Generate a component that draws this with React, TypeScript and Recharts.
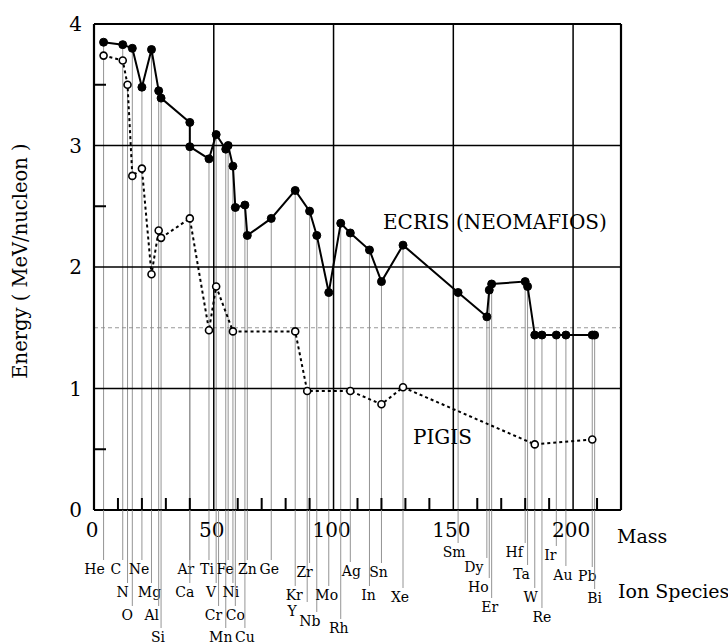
import { ComposedChart, Line, Scatter, XAxis, YAxis, ReferenceLine } from "recharts"

// ion species and the mass each one is plotted at
const species = ["He", "C", "N", "O", "Ne", "Mg", "Al", "Si", "Ar", "Ca", "Ti", "V", "Cr", "Mn", "Fe", "Ni", "Co", "Cu", "Zn", "Ge", "Kr", "Y", "Zr", "Nb", "Mo", "Rh", "Ag", "In", "Sn", "Xe", "Sm", "Dy", "Ho", "Er", "Hf", "Ta", "W", "Re", "Ir", "Au", "Pb", "Bi"]
const masses = [4, 12, 14, 16, 20, 24, 27, 28, 40, 40, 48, 51, 52, 55, 56, 58, 59, 63, 64, 74, 84, 89, 90, 93, 98, 103, 107, 115, 120, 129, 152, 164, 165, 166, 180, 181, 184, 187, 193, 197, 208, 209]

// MeV/nucleon, null = no point for that ion
const ecris = [3.85, 3.83, null, 3.8, 3.48, 3.79, 3.45, 3.39, 3.19, 2.99, 2.89, 3.09, null, 2.97, 3.0, 2.83, 2.49, 2.51, 2.26, 2.4, 2.63, null, 2.46, 2.26, 1.79, 2.36, 2.28, 2.14, 1.88, 2.18, 1.79, 1.59, 1.81, 1.86, 1.88, 1.84, 1.44, 1.44, 1.44, 1.44, 1.44, 1.44]
const pigis = [3.74, 3.7, 3.5, 2.75, 2.81, 1.94, 2.3, 2.24, 2.4, null, 1.48, 1.84, null, null, null, 1.47, null, null, null, null, 1.47, 0.98, null, null, null, null, 0.98, null, 0.87, 1.01, null, null, null, null, null, null, 0.54, null, null, null, 0.58, null]

const massLabels = [0, 50, 100, 150, 200]
const energyLabels = [0, 1, 2, 3, 4]
const minorX = [10, 20, 30, 40, 60, 70, 80, 90, 110, 120, 130, 140, 160, 170, 180, 190, 210]
const minorY = [0.5, 2.5, 3.5]

const FONT = "'DejaVu Serif', 'Liberation Serif', serif"

// label placement under the axis: [dx, dy below axis]
const labelPos: Record<string, [number, number]> = {
  He: [-9, 59], C: [-7, 59], N: [-5, 82], O: [-5, 105], Ne: [-3, 59], Mg: [-2, 82], Al: [-7, 105], Si: [-3, 127],
  Ar: [-4, 59], Ca: [-5, 82], Ti: [-2, 59], V: [-5, 82], Cr: [-5, 105], Mn: [-5, 127], Fe: [-3, 59], Ni: [-2, 82],
  Co: [0, 105], Cu: [0, 127], Zn: [0, 59], Ge: [-2, 59], Kr: [-1, 85], Y: [-15, 101], Zr: [-5, 62], Nb: [-7, 111],
  Mo: [-2, 85], Rh: [-2, 118], Ag: [1, 61], In: [-1, 85], Sn: [-3, 62], Xe: [-3, 87], Sm: [-4, 42], Dy: [-13, 57],
  Ho: [-11, 77], Er: [-2, 97], Hf: [-11, 42], Ta: [-6, 64], W: [-4, 87], Re: [0, 107], Ir: [-6, 45], Au: [-3, 65],
  Pb: [-5, 66], Bi: [0, 88],
}

const ecrisData = masses.map((m, i) => ({ mass: m, e: ecris[i] })).filter((d) => d.e !== null)
const pigisData = masses.map((m, i) => ({ mass: m, e: pigis[i] })).filter((d) => d.e !== null)
const xMinorData = minorX.map((v) => ({ mass: v, e: 0 }))
const yMinorData = minorY.map((v) => ({ mass: 0, e: v }))

const xTicks = Array.from(new Set([...massLabels, ...masses])).sort((a, b) => a - b)

function XTick(props: any) {
  const { x, y, payload } = props
  const v = payload.value
  const out: any[] = []
  if (massLabels.includes(v))
    out.push(
      <text key="n" x={x - 2} y={y + 27} textAnchor="middle" fontSize={20} fontFamily={FONT} fill="#000">
        {v}
      </text>
    )
  species.forEach((s, i) => {
    if (masses[i] !== v) return
    const [dx, dy] = labelPos[s]
    out.push(<line key={"l" + s} x1={x} x2={x} y1={y} y2={y + dy - 9} stroke="#888" strokeWidth={0.9} />)
    out.push(
      <text key={"t" + s} x={x + dx} y={y + dy + 5} textAnchor="middle" fontSize={14} fontFamily={FONT} fill="#000">
        {s}
      </text>
    )
  })
  return <g>{out}</g>
}

function YTick(props: any) {
  const { x, y, payload } = props
  return (
    <text x={x - 12} y={y + 7} textAnchor="end" fontSize={20} fontFamily={FONT} fill="#000">
      {payload.value}
    </text>
  )
}

const upTick = (p: any) => <line x1={p.cx} x2={p.cx} y1={p.cy} y2={p.cy - 12} stroke="#000" strokeWidth={2} />
const rightTick = (p: any) => <line x1={p.cx} x2={p.cx + 12} y1={p.cy} y2={p.cy} stroke="#000" strokeWidth={2} />

export default function App() {
  return (
    <div style={{ position: "absolute", left: 0, top: 0, width: 728, height: 644, background: "#fff" }}>
      <ComposedChart width={728} height={644} margin={{ top: 24, right: 107, bottom: 0, left: 0 }}>
        <XAxis
          type="number"
          dataKey="mass"
          domain={[0, 220]}
          ticks={xTicks}
          interval={0}
          height={134}
          tickSize={0}
          tickMargin={0}
          tick={XTick}
          axisLine={{ stroke: "#000", strokeWidth: 2.2 }}
        />
        <YAxis
          type="number"
          dataKey="e"
          domain={[0, 4]}
          ticks={energyLabels}
          interval={0}
          width={94}
          tickSize={0}
          tickMargin={0}
          tick={YTick}
          axisLine={{ stroke: "#000", strokeWidth: 2.2 }}
        />
        <ReferenceLine y={1.5} stroke="#999" strokeDasharray="4 3" strokeWidth={1} />
        {species.map((s, i) => {
          const top = Math.max(ecris[i] ?? 0, pigis[i] ?? 0)
          if (!top) return null
          return (
            <ReferenceLine
              key={s}
              segment={[
                { x: masses[i], y: 0 },
                { x: masses[i], y: top },
              ]}
              stroke="#888"
              strokeWidth={0.9}
            />
          )
        })}
        {[1, 2, 3].map((v) => (
          <ReferenceLine key={"h" + v} y={v} stroke="#000" strokeWidth={1.5} />
        ))}
        {[50, 100, 150, 200].map((v) => (
          <ReferenceLine key={"v" + v} x={v} stroke="#000" strokeWidth={1.5} />
        ))}
        <ReferenceLine y={4} stroke="#000" strokeWidth={2.2} />
        <ReferenceLine x={220} stroke="#000" strokeWidth={2.2} />
        <Scatter data={xMinorData} dataKey="e" shape={upTick} isAnimationActive={false} />
        <Scatter data={yMinorData} dataKey="e" shape={rightTick} isAnimationActive={false} />
        <Line
          data={pigisData}
          dataKey="e"
          stroke="#000"
          strokeWidth={2}
          strokeDasharray="3 3"
          dot={{ r: 3.5, fill: "#fff", stroke: "#000", strokeWidth: 1.6, strokeDasharray: "0" }}
          isAnimationActive={false}
        />
        <Line
          data={ecrisData}
          dataKey="e"
          stroke="#000"
          strokeWidth={2}
          dot={{ r: 4, fill: "#000", stroke: "#000", strokeWidth: 1 }}
          isAnimationActive={false}
        />
      </ComposedChart>
      <svg width={728} height={644} style={{ position: "absolute", left: 0, top: 0, pointerEvents: "none" }}>
        <g fontFamily={FONT} fill="#000">
          <text x={27} y={261} transform="rotate(-90 27 261)" textAnchor="middle" fontSize={19.5}>
            Energy ( MeV/nucleon )
          </text>
          <text x={383} y={229} fontSize={20}>ECRIS (NEOMAFIOS)</text>
          <text x={413} y={444} fontSize={20}>PIGIS</text>
          <text x={617} y={543} fontSize={19}>Mass</text>
          <text x={618} y={598} fontSize={19}>Ion Species</text>
        </g>
      </svg>
    </div>
  )
}
